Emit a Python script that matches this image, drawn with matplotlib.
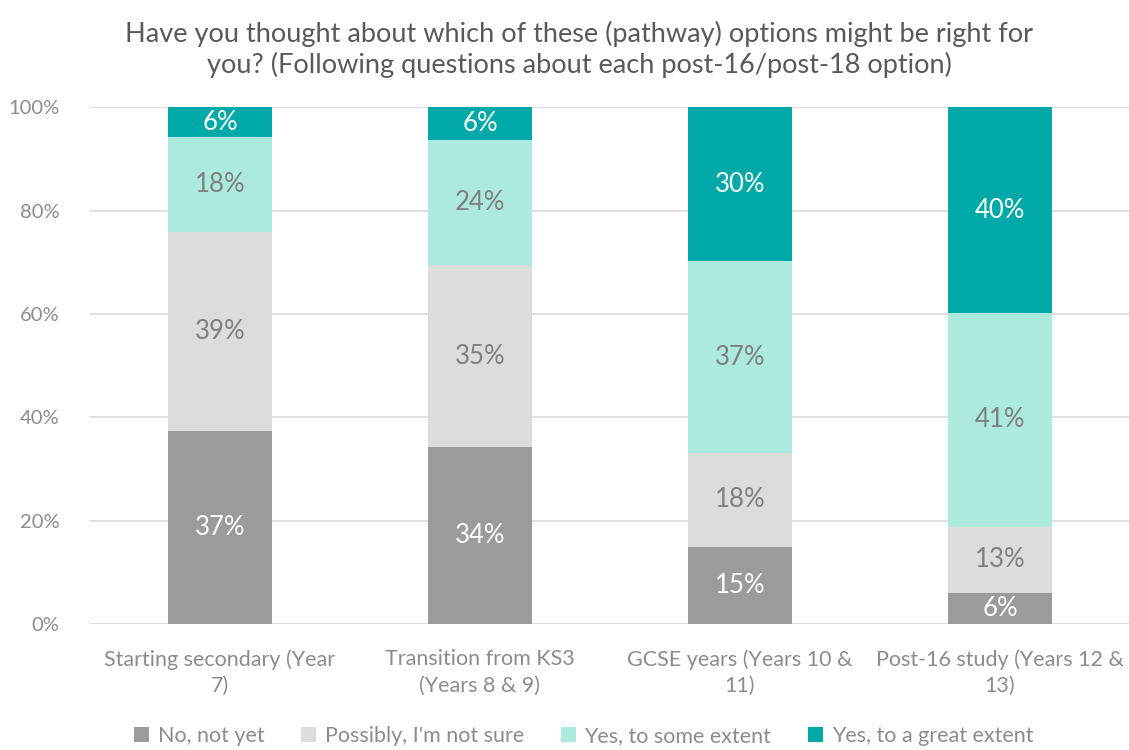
import numpy as np
import matplotlib.pyplot as plt

plt.rcParams['font.family'] = ['Lato', 'DejaVu Sans']

categories = ["Starting secondary (Year\n7)", "Transition from KS3\n(Years 8 & 9)",
              "GCSE years (Years 10 &\n11)", "Post-16 study (Years 12 &\n13)"]
series = ["No, not yet", "Possibly, I'm not sure", "Yes, to some extent", "Yes, to a great extent"]
no_not_yet = [37.3, 34.2, 14.9, 6.0]
possibly = [38.6, 35.2, 18.2, 12.8]
some_extent = [18.3, 24.2, 37.1, 41.4]
great_extent = [5.8, 6.4, 29.8, 39.8]

colors = ["#9b9b9a", "#dcdcdb", "#adeade", "#00a9a8"]
label_colors = ["white", "#7f7f7f", "#7f7f7f", "white"]

fig = plt.figure(figsize=(11.29, 7.5), dpi=100)
ax = fig.add_axes([90 / 1129, 0.168, 1040 / 1129, 0.689])

x = np.arange(len(categories))
bottom = np.zeros(len(categories))
for name, vals, c, lc in zip(series, [no_not_yet, possibly, some_extent, great_extent], colors, label_colors):
    vals = np.array(vals)
    ax.bar(x, vals, 0.4, bottom=bottom, color=c, label=name, zorder=2)
    for xi, b, v in zip(x, bottom, vals):
        ax.text(xi, b + v / 2, f"{round(v):.0f}%", ha='center', va='center',
                color=lc, fontsize=18.5)
    bottom += vals

ax.set_xlim(-0.5, 3.5)
ax.set_ylim(0, 100)
ax.set_yticks(range(0, 101, 20))
ax.set_yticklabels([f"{t}%" for t in range(0, 101, 20)])
ax.yaxis.grid(True, color="#d9d9d9", linewidth=1.2, zorder=0)
ax.set_axisbelow(True)
for s in ax.spines.values():
    s.set_visible(False)
ax.tick_params(axis='both', length=0, colors="#8c8c8c")
ax.tick_params(axis='y', pad=22, labelsize=14.5)
ax.tick_params(axis='x', pad=18, labelsize=15.5)
ax.set_xticks(x)
ax.set_xticklabels(categories, color="#8c8c8c", linespacing=1.4)

fig.text(0.513, 0.972, "Have you thought about which of these (pathway) options might be right for\n"
         "you? (Following questions about each post-16/post-18 option)",
         ha='center', va='top', fontsize=19.5, color="#595959", linespacing=1.25)

leg = fig.legend(loc='lower center', bbox_to_anchor=(0.517, -0.02), ncol=4, frameon=False,
                 fontsize=15.5, handlelength=0.7, handleheight=0.7, columnspacing=1.7,
                 handletextpad=0.4)
for t in leg.get_texts():
    t.set_color("#8c8c8c")

fig.savefig("out.png", dpi=100)
